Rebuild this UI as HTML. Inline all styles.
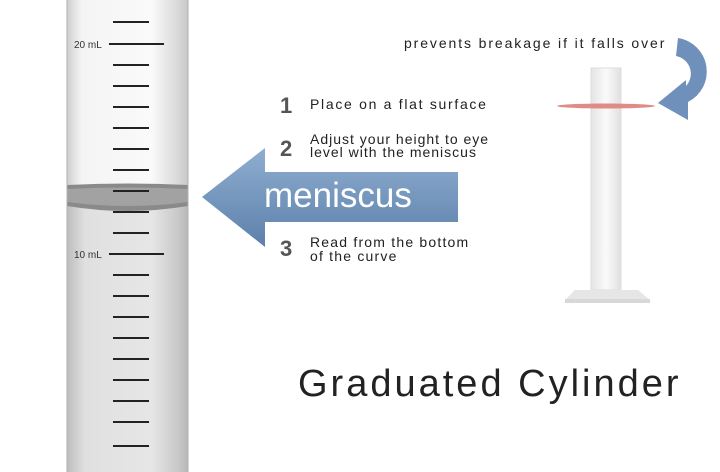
<!DOCTYPE html>
<html><head><meta charset="utf-8"><style>
body{margin:0;width:720px;height:472px;background:#fff;overflow:hidden;position:relative;font-family:"Comic Sans MS","Liberation Sans",sans-serif}
.t{position:absolute;color:#222;font-size:14px;line-height:14px;white-space:nowrap;letter-spacing:1.3px}
.n{position:absolute;font-size:22px;font-weight:bold;color:#555}
</style></head><body>
<svg width="720" height="472" style="position:absolute;left:0;top:0">
<defs>
<linearGradient id="g" x1="0" x2="1"><stop offset="0" stop-color="#cfcfcf"/><stop offset=".12" stop-color="#f4f4f4"/><stop offset=".7" stop-color="#fafafa"/><stop offset=".92" stop-color="#d8d8d8"/><stop offset="1" stop-color="#c8c8c8"/></linearGradient>
<linearGradient id="l" x1="0" x2="1"><stop offset="0" stop-color="#bdbdbd"/><stop offset=".15" stop-color="#e0e0e0"/><stop offset=".7" stop-color="#e6e6e6"/><stop offset=".92" stop-color="#c8c8c8"/><stop offset="1" stop-color="#b8b8b8"/></linearGradient>
<linearGradient id="a" x1="0" y1="0" x2="0" y2="1"><stop offset="0" stop-color="#8faed0"/><stop offset="1" stop-color="#5d80ab"/></linearGradient>
<linearGradient id="s" x1="0" x2="1"><stop offset="0" stop-color="#e4e4e4"/><stop offset=".5" stop-color="#fafafa"/><stop offset="1" stop-color="#e0e0e0"/></linearGradient>
</defs>
<rect x="67" y="0" width="121" height="472" fill="url(#g)"/>
<rect x="67" y="200" width="121" height="272" fill="url(#l)"/>
<path d="M67 185 Q128 182 188 185 L188 206 Q128 216 67 206Z" fill="#8a8a8a"/>
<path d="M67 189 Q128 186 188 189 L188 202 Q128 210 67 202Z" fill="#a2a2a2"/>
<line x1="67" y1="0" x2="67" y2="472" stroke="#b0b0b0"/>
<line x1="188" y1="0" x2="188" y2="472" stroke="#b0b0b0"/>
<g stroke="#222" stroke-width="2">
<line x1="113" y1="22" x2="149" y2="22"/>
<line x1="109" y1="44" x2="164" y2="44"/>
<line x1="113" y1="65" x2="149" y2="65"/><line x1="113" y1="86" x2="149" y2="86"/><line x1="113" y1="107" x2="149" y2="107"/><line x1="113" y1="128" x2="149" y2="128"/><line x1="113" y1="149" x2="149" y2="149"/><line x1="113" y1="170" x2="149" y2="170"/><line x1="113" y1="191" x2="149" y2="191"/><line x1="113" y1="212" x2="149" y2="212"/><line x1="113" y1="233" x2="149" y2="233"/>
<line x1="109" y1="254" x2="164" y2="254"/>
<line x1="113" y1="275" x2="149" y2="275"/><line x1="113" y1="296" x2="149" y2="296"/><line x1="113" y1="317" x2="149" y2="317"/><line x1="113" y1="338" x2="149" y2="338"/><line x1="113" y1="359" x2="149" y2="359"/><line x1="113" y1="380" x2="149" y2="380"/><line x1="113" y1="401" x2="149" y2="401"/><line x1="113" y1="422" x2="149" y2="422"/><line x1="113" y1="446" x2="149" y2="446"/>
</g>
<path d="M202 197 L265 148 L265 172 L458 172 L458 222 L265 222 L265 247 Z" fill="url(#a)"/>
<rect x="591" y="68" width="30" height="222" fill="url(#s)" stroke="#ddd"/>
<path d="M575 290 L638 290 L650 300 L565 300 Z" fill="#e6e6e6"/>
<rect x="565" y="299" width="85" height="4" fill="#d8d8d8"/>
<ellipse cx="606" cy="106" rx="49" ry="2.5" fill="#e08c86"/>
<path d="M678 38 A34 34 0 0 1 688 102 L688 120 L658 103 L686 80 L686 86 A18 18 0 0 0 676 56 Z" fill="#6f90ba"/>
</svg>
<div class="t" style="left:74px;top:39px;font-size:10px;color:#333;letter-spacing:0">20 mL</div>
<div class="t" style="left:74px;top:249px;font-size:10px;color:#333;letter-spacing:0">10 mL</div>
<div class="t" style="left:404px;top:36px;letter-spacing:1.9px">prevents breakage if it falls over</div>
<div class="n" style="left:280px;top:93px">1</div>
<div class="t" style="left:310px;top:97px;letter-spacing:1.7px">Place on a flat surface</div>
<div class="n" style="left:280px;top:136px">2</div>
<div class="t" style="left:310px;top:133px;line-height:13px;letter-spacing:1px">Adjust your height to eye<br>level with the meniscus</div>
<div class="n" style="left:280px;top:236px">3</div>
<div class="t" style="left:310px;top:235px;line-height:14px;letter-spacing:1.2px">Read from the bottom<br>of the curve</div>
<div class="t" style="left:264px;top:176px;font-family:'Liberation Sans',sans-serif;font-size:35px;line-height:40px;color:#fff;letter-spacing:0">meniscus</div>
<div class="t" style="left:298px;top:362px;font-size:38px;line-height:44px;color:#222;letter-spacing:3px">Graduated Cylinder</div>
</body></html>
